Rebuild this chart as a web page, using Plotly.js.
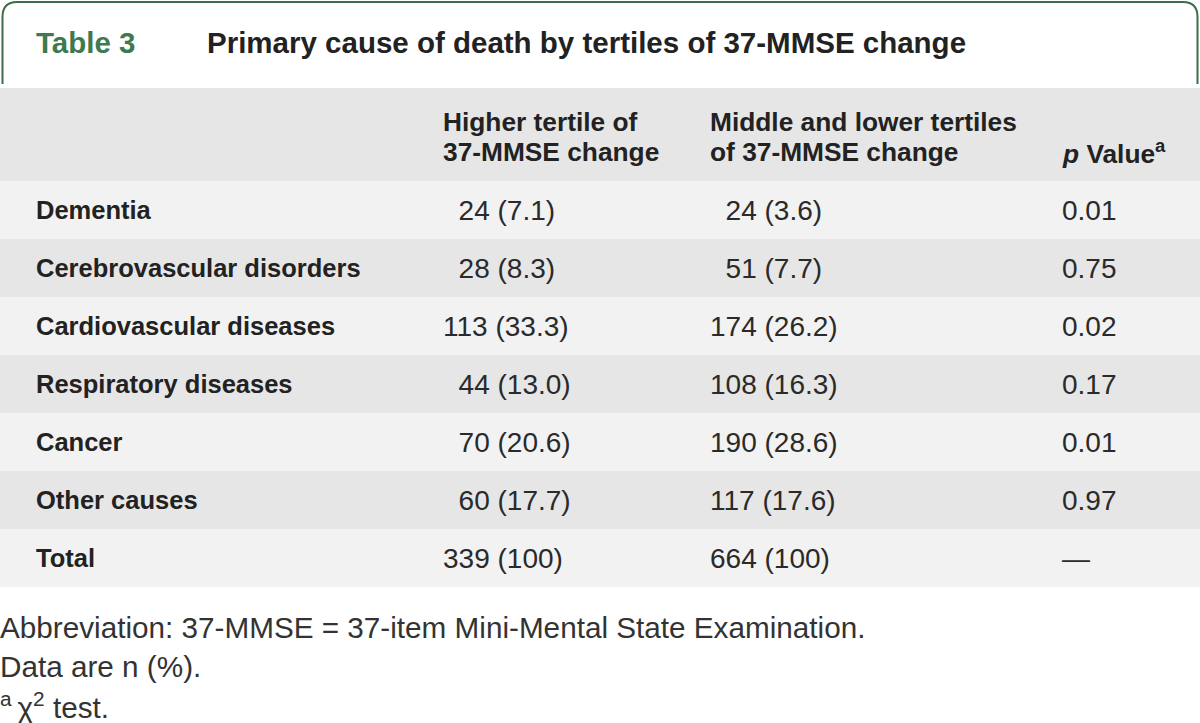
<!DOCTYPE html>
<html><head><meta charset="utf-8">
<script src="https://cdn.plot.ly/plotly-3.0.1.min.js"></script>
<style>html,body{margin:0;padding:0;background:#fff;overflow:hidden}</style>
</head><body><div id="chart" style="width:1200px;height:723px"></div>
<script>
// ---------------- data ----------------
const tableLabel = "Table 3";
const tableTitle = "Primary cause of death by tertiles of 37-MMSE change";
const headerLines = [
  [],
  ["Higher tertile of", "37-MMSE change"],
  ["Middle and lower tertiles", "of 37-MMSE change"],
  ["<i>p</i> Value<sup>a</sup>"]
];
const causes = ["Dementia", "Cerebrovascular disorders", "Cardiovascular diseases",
  "Respiratory diseases", "Cancer", "Other causes", "Total"];
const higherN = [24, 28, 113, 44, 70, 60, 339];
const higherPct = ["7.1", "8.3", "33.3", "13.0", "20.6", "17.7", "100"];
const lowerN = [24, 51, 174, 108, 190, 117, 664];
const lowerPct = ["3.6", "7.7", "26.2", "16.3", "28.6", "17.6", "100"];
const pValues = ["0.01", "0.75", "0.02", "0.17", "0.01", "0.97", "\u2014"];
const footnotes = [
  "Abbreviation: 37-MMSE = 37-item Mini-Mental State Examination.",
  "Data are n (%).",
  "<sup>a</sup>\u2009\u03c7<sup>2</sup> test."
];

// ---------------- layout constants ----------------
const W = 1200, H = 723;
const ROW_H = 58, ROW0_C = 210;
const COL_X = [36, 443, 710, 1062];
const FONT = "Liberation Sans, Arial, sans-serif";
const yd = p => (p - ROW0_C) / ROW_H;      // pixel -> row-axis units
const yp = p => 1 - p / H;                  // pixel -> paper units
const fmtN = n => String(n).padStart(3, "\u2007");

const rowIdx = causes.map((_, i) => i);
const stripe = {
  type: "bar", orientation: "h",
  y: rowIdx, x: rowIdx.map(() => W), base: 0, width: 1,
  marker: { color: rowIdx.map(i => i % 2 === 0 ? "#f2f2f2" : "#e6e6e6"), line: { width: 0 } },
  hoverinfo: "skip", showlegend: false
};

const ann = [];
const add = (o) => ann.push(Object.assign({
  showarrow: false, xanchor: "left", yanchor: "middle",
  borderpad: 0, borderwidth: 0, xref: "x", yref: "y"
}, o));

// title tab
add({ x: COL_X[0], y: yp(42), yref: "paper", text: "<b>" + tableLabel + "</b>",
  font: { family: FONT, size: 29.5, color: "#3e7a4f" } });
add({ x: 207, y: yp(42), yref: "paper", text: "<b>" + tableTitle + "</b>",
  font: { family: FONT, size: 29.5, color: "#222222" } });

// header
headerLines.forEach((lines, c) => {
  lines.forEach((t, k) => {
    const fromBottom = lines.length - 1 - k;
    add({ x: COL_X[c], y: yd(152 - fromBottom * 30), text: "<b>" + t + "</b>",
      font: { family: FONT, size: 26.3, color: "#222222" } });
  });
});

// body
causes.forEach((c, i) => {
  add({ x: COL_X[0], y: i, text: "<b>" + c + "</b>",
    font: { family: FONT, size: 25.5, color: "#222222" } });
  add({ x: COL_X[1], y: i, text: fmtN(higherN[i]) + " (" + higherPct[i] + ")",
    font: { family: FONT, size: 28, color: "#2a2a2a" } });
  add({ x: COL_X[2], y: i, text: fmtN(lowerN[i]) + " (" + lowerPct[i] + ")",
    font: { family: FONT, size: 28, color: "#2a2a2a" } });
  add({ x: COL_X[3], y: i, text: pValues[i],
    font: { family: FONT, size: 28, color: "#2a2a2a" } });
});

// footnotes
footnotes.forEach((t, k) => {
  add({ x: 0, y: yp(627 + k * 39), yref: "paper", text: t,
    font: { family: FONT, size: 29.7, color: "#333333" } });
});

const shapes = [
  { type: "rect", xref: "paper", x0: 0, x1: 1, yref: "y", y0: yd(181), y1: yd(88),
    fillcolor: "#e6e6e6", line: { width: 0 }, layer: "below" },
  { type: "path", xref: "x", yref: "paper",
    path: `M 2.5,${yp(84)} L 2.5,${yp(17)} Q 2.5,${yp(2)} 17,${yp(2)} L 1183,${yp(2)} Q 1197.5,${yp(2)} 1197.5,${yp(17)} L 1197.5,${yp(84)}`,
    line: { color: "#3d6e48", width: 2 }, layer: "above" }
];

const layout = {
  width: W, height: H,
  margin: { l: 0, r: 0, t: 0, b: 0, pad: 0 },
  paper_bgcolor: "#ffffff", plot_bgcolor: "rgba(0,0,0,0)",
  xaxis: { range: [0, W], visible: false, fixedrange: true },
  yaxis: { range: [yd(H), yd(0)], visible: false, fixedrange: true },
  bargap: 0, showlegend: false,
  annotations: ann, shapes: shapes
};

Plotly.newPlot("chart", [stripe], layout, { staticPlot: true, displayModeBar: false });
</script>
</body></html>
